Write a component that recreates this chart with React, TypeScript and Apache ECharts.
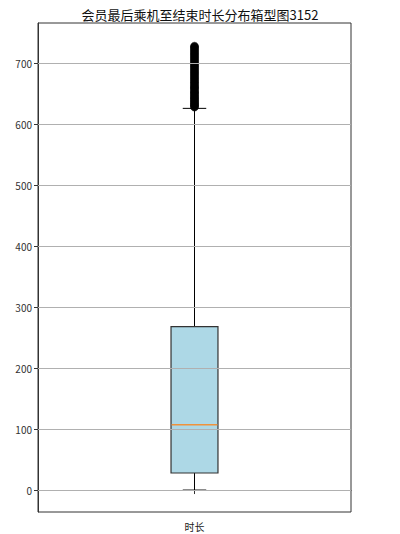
import React, { useEffect, useRef } from "react";
import * as echarts from "echarts";

const titleText = "会员最后乘机至结束时长分布箱型图3152";
const categories = ["时长"];
// min whisker, Q1, median, Q3, max whisker
const boxStats = [0, 28, 107, 268, 626];
const outliers = [
  628, 629, 631, 632, 634, 635, 637, 639, 640, 642, 644, 645, 647, 649, 651,
  652, 654, 656, 658, 660, 661, 663, 665, 667, 669, 671, 673, 675, 677, 679,
  681, 683, 685, 687, 689, 691, 693, 695, 697, 699, 701, 703, 705, 707, 709,
  711, 713, 715, 717, 719, 721, 723, 725, 727, 728,
];
const yTicks = [0, 100, 200, 300, 400, 500, 600, 700];
const yMin = -36;
const yMax = 766;

export default function App() {
  const ref = useRef<HTMLDivElement>(null);
  useEffect(() => {
    if (!ref.current) return;
    const chart = echarts.init(ref.current, undefined, { renderer: "svg" });
    const font = "'Noto Sans CJK SC', 'DejaVu Sans', sans-serif";
    chart.setOption({
      animation: false,
      backgroundColor: "#ffffff",
      title: {
        text: titleText,
        left: "center",
        top: 3,
        textStyle: { fontSize: 13, fontWeight: "normal", color: "#111", fontFamily: font },
      },
      grid: {
        left: 38,
        right: 49,
        top: 23,
        bottom: 22,
        show: true,
        borderColor: "#333",
        borderWidth: 1,
        backgroundColor: "transparent",
      },
      xAxis: {
        type: "category",
        data: categories,
        boundaryGap: true,
        axisLine: { show: true, lineStyle: { color: "#333", width: 1 } },
        axisTick: { show: true, alignWithLabel: true, length: 4, lineStyle: { color: "#333" } },
        axisLabel: { color: "#222", fontSize: 10, margin: 9, fontFamily: font },
        splitLine: { show: false },
      },
      yAxis: {
        type: "value",
        min: yMin,
        max: yMax,
        axisLine: { show: true, lineStyle: { color: "#333", width: 1 } },
        axisTick: { show: true, length: 4, lineStyle: { color: "#333" }, customValues: yTicks },
        axisLabel: { color: "#333", fontSize: 10, margin: 6, fontFamily: font, customValues: yTicks },
        splitLine: { show: false },
      },
      series: [
        {
          type: "scatter",
          z: 1,
          silent: true,
          symbolSize: 0,
          data: [[0, 0]],
          markLine: {
            silent: true,
            symbol: "none",
            label: { show: false },
            lineStyle: { color: "#b0b0b0", width: 1, type: "solid" },
            data: yTicks.map((v) => ({ yAxis: v })),
          },
        },
        {
          type: "custom",
          z: 3,
          data: [[0, ...boxStats]],
          encode: { x: 0, y: [1, 2, 3, 4, 5] },
          renderItem: (params: any, api: any) => {
            const x = api.value(0);
            const pMin = api.coord([x, api.value(1)]);
            const pQ1 = api.coord([x, api.value(2)]);
            const pMed = api.coord([x, api.value(3)]);
            const pQ3 = api.coord([x, api.value(4)]);
            const pMax = api.coord([x, api.value(5)]);
            const bw = api.size([1, 0])[0] * 0.15;
            const cx = pMed[0];
            const capW = bw / 2;
            const black = { stroke: "#000", lineWidth: 1 };
            return {
              type: "group",
              children: [
                { type: "line", shape: { x1: cx, y1: pQ1[1], x2: cx, y2: pMin[1] }, style: black },
                { type: "line", shape: { x1: cx, y1: pQ3[1], x2: cx, y2: pMax[1] }, style: black },
                { type: "line", shape: { x1: cx - capW / 2, y1: pMin[1], x2: cx + capW / 2, y2: pMin[1] }, style: black },
                { type: "line", shape: { x1: cx - capW / 2, y1: pMax[1], x2: cx + capW / 2, y2: pMax[1] }, style: black },
                {
                  type: "rect",
                  shape: { x: cx - bw / 2, y: pQ3[1], width: bw, height: pQ1[1] - pQ3[1] },
                  style: { fill: "#add8e6", stroke: "#333", lineWidth: 1.2 },
                },
                {
                  type: "line",
                  shape: { x1: cx - bw / 2 + 0.6, y1: pMed[1], x2: cx + bw / 2 - 0.6, y2: pMed[1] },
                  style: { stroke: "#f0923a", lineWidth: 1.5 },
                },
              ],
            };
          },
        },
        {
          type: "scatter",
          z: 4,
          silent: true,
          symbol: "circle",
          symbolSize: 8,
          itemStyle: { color: "#000", borderColor: "#000", borderWidth: 0.5 },
          data: outliers.map((v) => [0, v]),
        },
      ],
    });
    return () => chart.dispose();
  }, []);
  return (
    <div
      ref={ref}
      style={{ position: "fixed", left: 0, top: 0, width: 400, height: 534 }}
    />
  );
}
